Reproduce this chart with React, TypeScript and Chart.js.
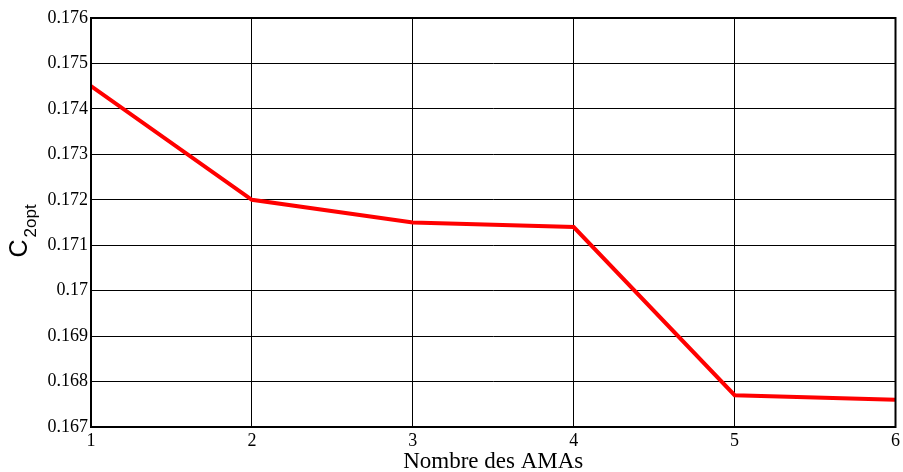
import React, { useEffect, useRef } from "react";
import { Chart, registerables } from "chart.js";

Chart.register(...registerables);

const xValues = [1, 2, 3, 4, 5, 6];
const yValues = [0.1745, 0.172, 0.1715, 0.1714, 0.1677, 0.1676];
const yTicks = [0.167, 0.168, 0.169, 0.17, 0.171, 0.172, 0.173, 0.174, 0.175, 0.176];
const xTitle = "Nombre des AMAs";
const yTitleMain = "C";
const yTitleSub = "2opt";

const framePlugin = {
  id: "frame",
  afterDatasetsDraw(chart: any) {
    const { ctx, chartArea } = chart;
    ctx.save();
    ctx.strokeStyle = "#000";
    ctx.lineWidth = 2;
    ctx.strokeRect(chartArea.left, chartArea.top, chartArea.right - chartArea.left, chartArea.bottom - chartArea.top);
    ctx.restore();
  },
  afterDraw(chart: any) {
    const { ctx, chartArea } = chart;
    ctx.save();
    ctx.fillStyle = "#000";
    ctx.textBaseline = "alphabetic";
    // x title
    ctx.font = "23px 'Liberation Serif', 'Times New Roman', serif";
    ctx.textAlign = "center";
    ctx.fillText(xTitle, (chartArea.left + chartArea.right) / 2, 468);
    // y title
    ctx.textAlign = "left";
    const cy = (chartArea.top + chartArea.bottom) / 2;
    ctx.translate(27, cy + 35);
    ctx.rotate(-Math.PI / 2);
    ctx.font = "25px 'Liberation Sans', Arial, sans-serif";
    ctx.fillText(yTitleMain, 0, 0);
    const w = ctx.measureText(yTitleMain).width;
    ctx.font = "17px 'Liberation Sans', Arial, sans-serif";
    ctx.fillText(yTitleSub, w + 2, 9);
    ctx.restore();
  },
};

export default function App() {
  const ref = useRef<HTMLCanvasElement | null>(null);
  useEffect(() => {
    if (!ref.current) return;
    const chart = new Chart(ref.current, {
      type: "line",
      data: {
        datasets: [
          {
            data: xValues.map((x, i) => ({ x, y: yValues[i] })),
            borderColor: "#ff0000",
            borderWidth: 4,
            pointRadius: 0,
            tension: 0,
            fill: false,
          },
        ],
      },
      options: {
        animation: false,
        responsive: false,
        maintainAspectRatio: false,
        layout: { padding: { top: 18, right: 6, left: 0, bottom: 0 } },
        plugins: { legend: { display: false }, tooltip: { enabled: false } },
        scales: {
          x: {
            type: "linear",
            min: 1,
            max: 6,
            afterFit(scale: any) {
              scale.height = 45;
            },
            ticks: {
              stepSize: 1,
              color: "#000",
              padding: 3,
              font: { family: "'Liberation Serif', 'Times New Roman', serif", size: 18 },
              maxRotation: 0,
            },
            grid: { color: "#000", lineWidth: 1, drawTicks: false },
            border: { display: false },
          },
          y: {
            type: "linear",
            min: 0.167,
            max: 0.176,
            afterFit(scale: any) {
              scale.width = 91;
            },
            afterBuildTicks(scale: any) {
              scale.ticks = yTicks.map((v) => ({ value: v }));
            },
            ticks: {
              color: "#000",
              padding: 3,
              font: { family: "'Liberation Serif', 'Times New Roman', serif", size: 18 },
              callback: (v: any) => String(Number(Number(v).toFixed(3))),
            },
            grid: { color: "#000", lineWidth: 1, drawTicks: false },
            border: { display: false },
          },
        },
      },
      plugins: [framePlugin],
    } as any);
    return () => chart.destroy();
  }, []);
  return (
    <div style={{ position: "absolute", left: 0, top: 0, width: 903, height: 472, background: "#fff" }}>
      <canvas ref={ref} width={903} height={472} style={{ display: "block" }} />
    </div>
  );
}
